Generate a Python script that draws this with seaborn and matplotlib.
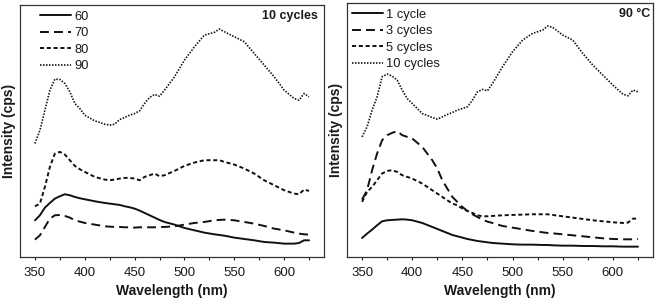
import matplotlib
matplotlib.use("Agg")
import matplotlib.pyplot as plt
import seaborn as sns
import pandas as pd
from matplotlib.ticker import MultipleLocator

# Wavelength grid (nm) shared by all spectra
wavelength = [350, 355, 360, 365, 370, 375, 380, 385, 390, 395, 400, 410, 420, 425,
              430, 435, 440, 445, 450, 455, 460, 465, 470, 475, 480, 490, 500, 510,
              520, 530, 535, 540, 550, 560, 570, 580, 590, 600, 610, 615, 620, 625]

# Left panel: 10 cycles, different temperatures (arbitrary cps)
temp_labels = ["60", "70", "80", "90"]
temp_60 = [110, 125, 148, 162, 175, 182, 188, 185, 180, 176, 173, 167, 162, 160,
           158, 156, 152, 149, 145, 139, 132, 125, 118, 111, 105, 97, 87, 80,
           73, 68, 66, 64, 58, 54, 50, 45, 43, 40, 40, 42, 50, 50]
temp_70 = [52, 65, 90, 115, 125, 126, 123, 118, 110, 106, 102, 97, 92, 91,
           90, 90, 89, 89, 88, 89, 89, 89, 89, 90, 90, 92, 97, 102,
           105, 110, 111, 112, 110, 105, 100, 93, 85, 80, 73, 70, 68, 67]
temp_80 = [152, 160, 210, 270, 310, 315, 307, 290, 273, 263, 255, 240, 232, 230,
           232, 235, 237, 237, 235, 230, 240, 245, 250, 242, 245, 258, 273, 283,
           290, 290, 290, 285, 277, 265, 250, 230, 215, 200, 190, 188, 202, 198]
temp_90 = [340, 380, 440, 500, 533, 532, 520, 495, 460, 445, 425, 408, 398, 395,
           398, 412, 418, 425, 430, 438, 460, 478, 487, 482, 500, 540, 590, 630,
           665, 673, 683, 675, 660, 645, 610, 575, 540, 500, 475, 470, 490, 480]

# Right panel: 90 C, different number of cycles
cycle_labels = ["1 cycle", "3 cycles", "5 cycles", "10 cycles"]
cyc_1 = [57, 70, 82, 95, 107, 110, 111, 112, 113, 112, 110, 102, 90, 84,
         78, 72, 66, 62, 58, 54, 51, 48, 46, 44, 42, 40, 38, 37,
         37, 36, 36, 35, 34, 34, 33, 33, 32, 32, 31, 31, 31, 31]
cyc_3 = [172, 200, 260, 310, 350, 365, 372, 377, 365, 360, 355, 330, 290, 265,
         230, 205, 180, 165, 150, 138, 128, 120, 112, 106, 102, 93, 88, 83,
         78, 74, 72, 71, 68, 65, 62, 59, 56, 54, 53, 53, 53, 54]
cyc_5 = [165, 195, 210, 230, 250, 258, 260, 255, 245, 240, 235, 220, 200, 190,
         180, 170, 160, 155, 145, 138, 132, 125, 122, 122, 123, 125, 126, 127,
         128, 128, 128, 126, 122, 118, 114, 110, 107, 104, 102, 103, 115, 115]
cyc_10 = [360, 390, 440, 480, 540, 548, 542, 530, 500, 475, 460, 430, 418, 413,
          420, 427, 433, 440, 445, 450, 470, 495, 502, 498, 520, 570, 615, 650,
          670, 680, 692, 688, 665, 650, 610, 575, 545, 515, 488, 483, 500, 495]


def long_df(labels, series):
    frames = []
    for lab, vals in zip(labels, series):
        frames.append(pd.DataFrame({"wl": wavelength, "cps": vals, "series": lab}))
    return pd.concat(frames, ignore_index=True)


df_temp = long_df(temp_labels, [temp_60, temp_70, temp_80, temp_90])
df_cyc = long_df(cycle_labels, [cyc_1, cyc_3, cyc_5, cyc_10])

sns.set_theme(style="ticks")
plt.rcParams['font.family'] = ['Liberation Sans', 'DejaVu Sans']
text_col = "#1a1a1a"

fig = plt.figure(figsize=(6.55, 3.0), dpi=100)
ax1 = fig.add_axes([20 / 655, 1 - 257 / 300, 304 / 655, 252.3 / 300])
ax2 = fig.add_axes([347 / 655, 1 - 257 / 300, 306 / 655, 254.3 / 300])

dash_list = ["", (4.6, 2.6), (2.1, 1.4), (0.9, 0.9)]


def draw(ax, df, labels, ylim, note, note_x):
    sns.lineplot(data=df, x="wl", y="cps", style="series", style_order=labels,
                 dashes=dict(zip(labels, dash_list)), color="#111111",
                 linewidth=1.4, errorbar=None, legend=False, ax=ax)
    ax.lines[3].set_linewidth(1.2)
    ax.set_xlim(335, 640)
    ax.set_ylim(*ylim)
    ax.xaxis.set_major_locator(MultipleLocator(50))
    ax.xaxis.set_minor_locator(MultipleLocator(25))
    ax.set_yticks([])
    ax.tick_params(axis="x", which="major", length=2.5, width=0.8, pad=4.5,
                   labelsize=9.5, colors=text_col)
    ax.tick_params(axis="x", which="minor", length=2.0, width=0.8)
    for sp in ax.spines.values():
        sp.set_linewidth(0.9)
        sp.set_color("#333333")
    ax.set_xlabel("Wavelength (nm)", fontsize=10, fontweight="bold",
                  color=text_col, labelpad=3.5)
    ax.set_ylabel("Intensity (cps)", fontsize=10, fontweight="bold",
                  color=text_col, labelpad=3)
    ax.text(note_x, 0.957, note, transform=ax.transAxes, ha="right", va="center",
            fontsize=9, fontweight="bold", color=text_col)
    return ax


draw(ax1, df_temp, temp_labels, (0, 756), "10 cycles", 0.98)
draw(ax2, df_cyc, cycle_labels, (0, 762), "90 \u00b0C", 0.99)

ax1.legend(ax1.lines[:4], temp_labels, loc="upper left",
           bbox_to_anchor=(0.066, 0.977), frameon=False, fontsize=9.3,
           borderpad=0, borderaxespad=0, handlelength=2.4,
           handletextpad=0.25, labelspacing=0.35, labelcolor=text_col)
ax2.legend(ax2.lines[:4], cycle_labels, loc="upper left",
           bbox_to_anchor=(0.015, 0.977), frameon=False, fontsize=9.3,
           borderpad=0, borderaxespad=0, handlelength=2.45,
           handletextpad=0.2, labelspacing=0.35, labelcolor=text_col)

fig.savefig("out.png", dpi=100)
